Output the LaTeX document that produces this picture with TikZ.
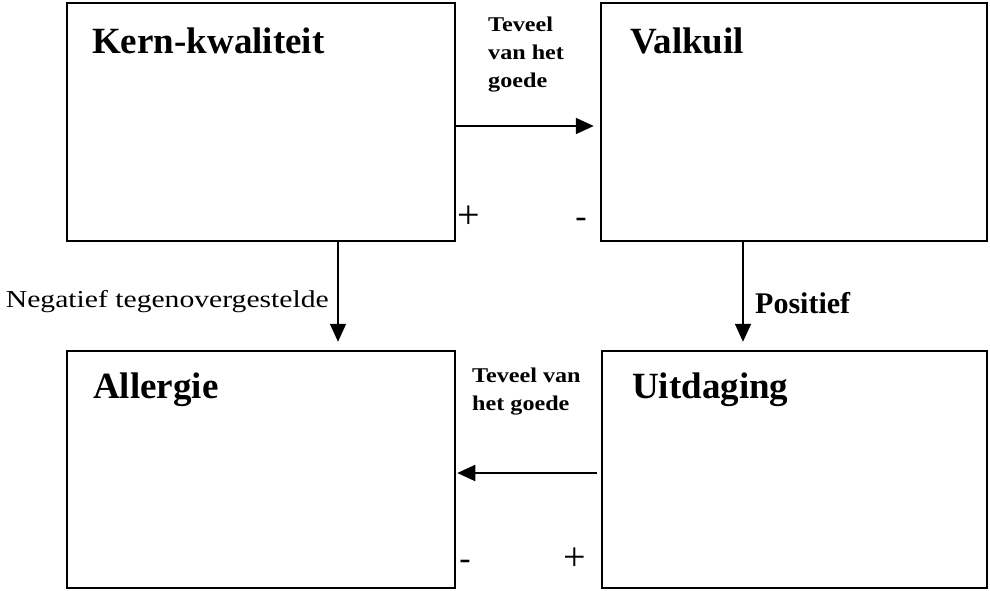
\documentclass[tikz,border=0pt]{standalone}
\usepackage{fontspec}
\setmainfont{Liberation Serif}
\newfontfamily\negfont[FakeStretch=1.22]{Liberation Serif}
\newfontfamily\smallbold[FakeStretch=1.15]{Liberation Serif}
\usetikzlibrary{arrows.meta}
\begin{document}
\begin{tikzpicture}[x=1pt,y=-1pt,
  box/.style={draw, line width=2.5pt, inner sep=0pt, fill=white},
  boxtitle/.style={inner sep=0pt, font=\bfseries\fontsize{37}{40}\selectfont},
  arr/.style={line width=1.8pt, -{Triangle[length=18pt,width=16pt]}},
  smalllbl/.style={inner sep=0pt, align=left, font=\smallbold\bfseries\fontsize{21}{28}\selectfont},
  sign/.style={inner sep=0pt, font=\fontsize{40}{42}\selectfont}]
\useasboundingbox[fill=white] (0,0) rectangle (990,591);
% boxes
\node[box, minimum width=388pt, minimum height=238pt] (kern) at (261,122) {};
\node[box, minimum width=386pt, minimum height=238pt] (valkuil) at (794,122) {};
\node[box, minimum width=388pt, minimum height=237pt] (all) at (261,469.5) {};
\node[box, minimum width=385pt, minimum height=237pt] (uit) at (794.5,469.5) {};
% titles
\node[boxtitle, anchor=base west] (kernT) at (92,54) {Kern-kwaliteit};
\node[boxtitle, anchor=base west] (valT) at (630,54) {Valkuil};
\node[boxtitle, anchor=base west] (allT) at (93,398) {Allergie};
\node[boxtitle, anchor=base west] (uitT) at (632,398) {Uitdaging};
% connectors
\draw[arr, shorten >=6pt] ([yshift=-4pt]kern.east) -- ([yshift=-4pt]valkuil.west);
\draw[arr, shorten <=4pt, shorten >=1pt] ([yshift=-3.5pt]uit.west) -- ([yshift=-3.5pt]all.east);
\draw[arr, shorten >=8pt] ([xshift=77pt]kern.south) -- ([xshift=77pt]all.north);
\draw[arr, shorten >=8pt] ([xshift=-51pt]valkuil.south) -- ([xshift=-51.5pt]uit.north);
% labels
\node[smalllbl, anchor=base west] (t1) at (488,88) {Teveel\\van het\\goede};
\node[smalllbl, anchor=base west] (t2) at (472,410) {Teveel van\\het goede};
\node[inner sep=0pt, anchor=base east, font=\negfont\fontsize{24.3}{28}\selectfont] (neg) at (329,307) {Negatief tegenovergestelde};
\node[inner sep=0pt, anchor=base west, font=\bfseries\fontsize{30}{34}\selectfont] (pos) at (755,313) {Positief};
% signs
\node[sign] (p1) at (469,217) {+};
\node[sign, font=\fontsize{34}{36}\selectfont] (m1) at (581,223) {-};
\node[sign, font=\fontsize{34}{36}\selectfont] (m2) at (465,565) {-};
\node[sign] (p2) at (575,559) {+};
\end{tikzpicture}
\end{document}
